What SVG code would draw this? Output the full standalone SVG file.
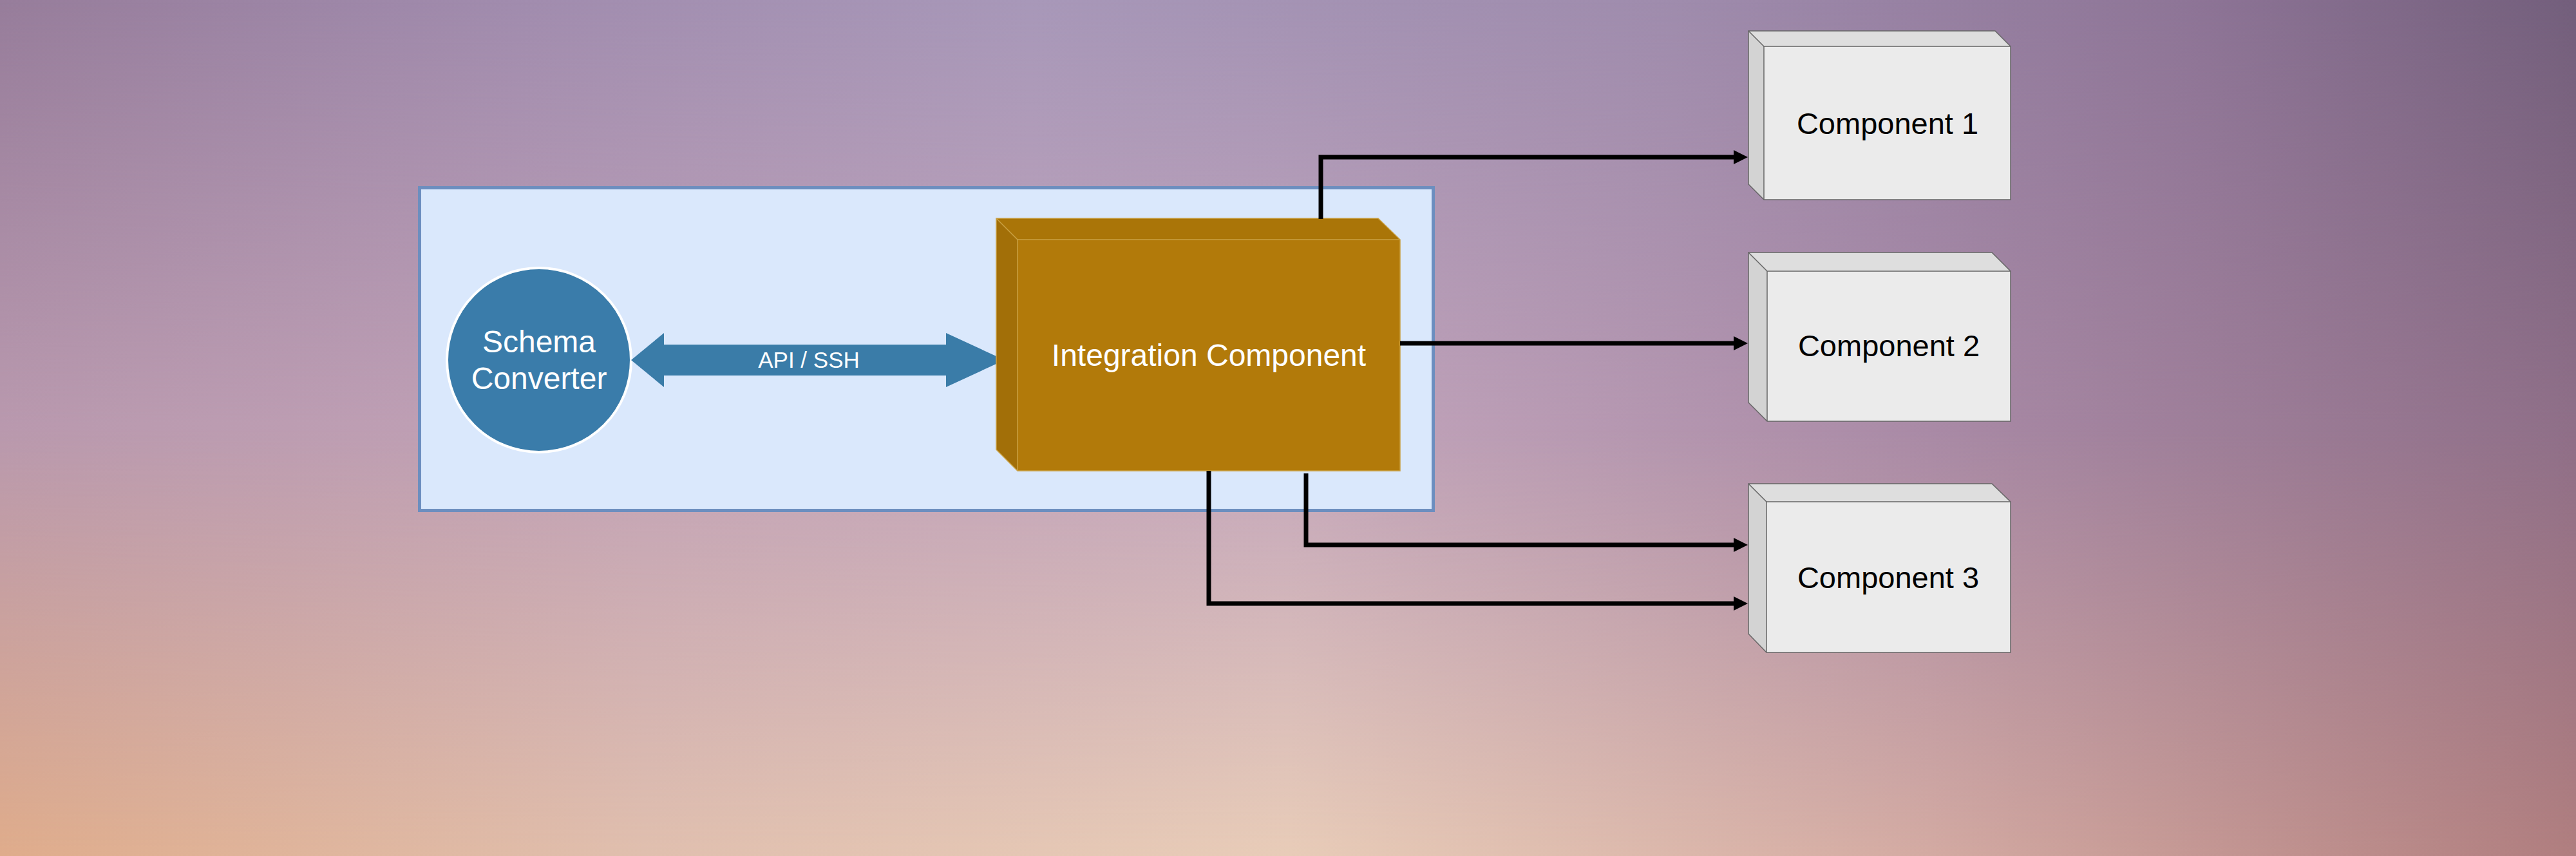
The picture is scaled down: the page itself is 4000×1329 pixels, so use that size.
<svg xmlns="http://www.w3.org/2000/svg" width="4000" height="1329" viewBox="0 0 4000 1329">
  <defs>
    <linearGradient id="topRow" x1="0" y1="0" x2="1" y2="0">
      <stop offset="0" stop-color="#977d9b"/>
      <stop offset="0.2" stop-color="#a18cae"/>
      <stop offset="0.4" stop-color="#a898b9"/>
      <stop offset="0.65" stop-color="#9f8cad"/>
      <stop offset="0.85" stop-color="#8e7597"/>
      <stop offset="1" stop-color="#735f7c"/>
    </linearGradient>
    <linearGradient id="midRow" x1="0" y1="0" x2="1" y2="0">
      <stop offset="0" stop-color="#b999ae"/>
      <stop offset="0.25" stop-color="#c1a2b7"/>
      <stop offset="0.5" stop-color="#c3a6bc"/>
      <stop offset="0.75" stop-color="#a98aa6"/>
      <stop offset="1" stop-color="#8f6f88"/>
    </linearGradient>
    <linearGradient id="botRow" x1="0" y1="0" x2="1" y2="0">
      <stop offset="0" stop-color="#dfac8b"/>
      <stop offset="0.25" stop-color="#e0bfae"/>
      <stop offset="0.5" stop-color="#e8ccb8"/>
      <stop offset="0.75" stop-color="#d3aaa2"/>
      <stop offset="1" stop-color="#b07e7f"/>
    </linearGradient>
    <linearGradient id="rampMid" x1="0" y1="0" x2="0" y2="1">
      <stop offset="0" stop-color="#000"/>
      <stop offset="0.5" stop-color="#fff"/>
      <stop offset="1" stop-color="#fff"/>
    </linearGradient>
    <linearGradient id="rampBot" x1="0" y1="0" x2="0" y2="1">
      <stop offset="0" stop-color="#000"/>
      <stop offset="0.5" stop-color="#000"/>
      <stop offset="1" stop-color="#fff"/>
    </linearGradient>
    <mask id="mMid" maskUnits="userSpaceOnUse" x="0" y="0" width="4000" height="1329">
      <rect x="0" y="0" width="4000" height="1329" fill="url(#rampMid)"/>
    </mask>
    <mask id="mBot" maskUnits="userSpaceOnUse" x="0" y="0" width="4000" height="1329">
      <rect x="0" y="0" width="4000" height="1329" fill="url(#rampBot)"/>
    </mask>
    <marker id="arrow" markerUnits="userSpaceOnUse" markerWidth="22" markerHeight="22" refX="0" refY="11" orient="auto" overflow="visible">
      <path d="M0,0 L22,11 L0,22 Z" fill="#000"/>
    </marker>
    <style>
      .lbl { font-family: "Liberation Sans", Arial, sans-serif; text-anchor: middle; }
      .white { fill: #ffffff; }
      .black { fill: #000000; }
      .conn { fill: none; stroke: #000; stroke-width: 7; stroke-linejoin: miter; marker-end: url(#arrow); }
      .cfront { fill: #ebebeb; }
      .ctop { fill: #dedede; }
      .cleft { fill: #d3d3d3; }
      .cedge { fill: none; stroke: #666666; stroke-width: 1.5; }
      .gedge { fill: none; stroke: #c9a043; stroke-width: 1.5; }
    </style>
  </defs>

  <g id="background">
    <rect x="0" y="0" width="4000" height="1329" fill="url(#topRow)"/>
    <rect x="0" y="0" width="4000" height="1329" fill="url(#midRow)" mask="url(#mMid)"/>
    <rect x="0" y="0" width="4000" height="1329" fill="url(#botRow)" mask="url(#mBot)"/>
  </g>

  <g id="container">
    <rect x="651.5" y="291.5" width="1574" height="501" fill="#dae8fc" stroke="#6c8ebf" stroke-width="5"/>
  </g>

  <g id="schema-converter">
    <circle cx="837" cy="559" r="143" fill="#3a7caa" stroke="#ffffff" stroke-width="4"/>
    <text class="lbl white" x="837" y="547" font-size="48">Schema</text>
    <text class="lbl white" x="837" y="604" font-size="48">Converter</text>
  </g>

  <g id="api-ssh">
    <polygon points="980,559 1031,517 1031,535 1469,535 1469,517 1560,559 1469,601 1469,583 1031,583 1031,601" fill="#3a7ca8"/>
    <text class="lbl white" x="1256" y="571" font-size="35">API / SSH</text>
  </g>

  <g id="integration-component">
    <polygon points="1547,339 2140,339 2174,372 1580,372" fill="#aa7508"/>
    <polygon points="1547,339 1580,372 1580,731 1547,698" fill="#a26f08"/>
    <rect x="1580" y="372" width="594" height="359" fill="#b27a0a"/>
    <polygon class="gedge" points="1547,339 2140,339 2174,372 2174,731 1580,731 1547,698"/>
    <polyline class="gedge" points="1547,339 1580,372 2174,372"/>
    <line class="gedge" x1="1580" y1="372" x2="1580" y2="731"/>
    <text class="lbl white" x="1877" y="568" font-size="48">Integration Component</text>
  </g>

  <g id="component-1">
    <polygon class="ctop" points="2715,48 3098,48 3122,72 2739,72"/>
    <polygon class="cleft" points="2715,48 2739,72 2739,310 2715,286"/>
    <rect class="cfront" x="2739" y="72" width="383" height="238"/>
    <polygon class="cedge" points="2715,48 3098,48 3122,72 3122,310 2739,310 2715,286"/>
    <polyline class="cedge" points="2715,48 2739,72 3122,72"/>
    <line class="cedge" x1="2739" y1="72" x2="2739" y2="310"/>
    <text class="lbl black" x="2931" y="208" font-size="47">Component 1</text>
  </g>

  <g id="component-2">
    <polygon class="ctop" points="2715,392 3093,392 3122,421 2744,421"/>
    <polygon class="cleft" points="2715,392 2744,421 2744,654 2715,625"/>
    <rect class="cfront" x="2744" y="421" width="378" height="233"/>
    <polygon class="cedge" points="2715,392 3093,392 3122,421 3122,654 2744,654 2715,625"/>
    <polyline class="cedge" points="2715,392 2744,421 3122,421"/>
    <line class="cedge" x1="2744" y1="421" x2="2744" y2="654"/>
    <text class="lbl black" x="2933" y="553" font-size="47">Component 2</text>
  </g>

  <g id="component-3">
    <polygon class="ctop" points="2715,751 3093,751 3122,779 2743,779"/>
    <polygon class="cleft" points="2715,751 2743,779 2743,1013 2715,984"/>
    <rect class="cfront" x="2743" y="779" width="379" height="234"/>
    <polygon class="cedge" points="2715,751 3093,751 3122,779 3122,1013 2743,1013 2715,984"/>
    <polyline class="cedge" points="2715,751 2743,779 3122,779"/>
    <line class="cedge" x1="2743" y1="779" x2="2743" y2="1013"/>
    <text class="lbl black" x="2932" y="913" font-size="47">Component 3</text>
  </g>

  <g id="connectors">
    <path class="conn" d="M2051,340 V244 H2692"/>
    <path class="conn" d="M2174,533 H2692"/>
    <path class="conn" d="M2028,735 V846 H2692"/>
    <path class="conn" d="M1877,731 V937 H2692"/>
  </g>
</svg>
